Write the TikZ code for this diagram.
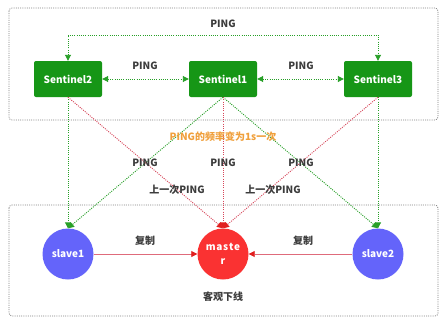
\documentclass[tikz,border=0pt]{standalone}
\usepackage{fontspec}
\setmainfont{Noto Sans CJK SC}
\usetikzlibrary{arrows.meta}
\definecolor{sgreen}{RGB}{22,150,22}
\definecolor{lgreen}{RGB}{40,160,40}
\definecolor{lred}{RGB}{215,70,90}
\definecolor{tipred}{RGB}{225,30,30}
\definecolor{sblue}{RGB}{100,100,250}
\definecolor{sred}{RGB}{250,50,50}
\definecolor{txt}{RGB}{60,60,60}
\definecolor{orangetxt}{RGB}{240,160,60}
\newcommand{\ks}{\kern0.7pt}
\tikzset{
  sent/.style={fill=sgreen, rounded corners=2pt, minimum width=68pt, minimum height=36pt, text=white, font=\bfseries\fontsize{10}{11}\selectfont, inner sep=0pt},
  circ/.style={circle, minimum size=51pt, text=white, font=\bfseries\fontsize{10}{14}\selectfont, inner sep=0pt, align=center},
  lbl/.style={text=txt, font=\bfseries\fontsize{10}{11}\selectfont, inner sep=1pt},
  gdot/.style={lgreen, line width=0.9pt, dash pattern=on 1pt off 1.2pt},
  rdot/.style={lred, line width=0.9pt, dash pattern=on 1pt off 1.2pt},
  gtip/.style={-{Triangle[length=6pt,width=6pt]}},
  rtip/.style={-{Triangle[length=6pt,width=6pt,color=tipred]}},
  frame/.style={gray, line width=0.8pt, dash pattern=on 1pt off 1.2pt, rounded corners=3pt},
}
\begin{document}
\begin{tikzpicture}[x=1pt,y=-1pt]
\useasboundingbox (0,0) rectangle (447,327);
\fill[white] (0,0) rectangle (447,327);
% frames
\draw[frame] (9,8) rectangle (438,120);
\draw[frame] (9,205) rectangle (438,316);
% nodes
\node[sent] (s2) at (68,79) {Sentinel2};
\node[sent] (s1) at (223,79) {Sentinel1};
\node[sent] (s3) at (378,79) {Sentinel3};
\node[circ, fill=sblue] (sl1) at (68,254) {slave1};
\node[circ, fill=sred] (m) at (223,254) {m\ks a\ks s\ks t\ks e\\r};
\node[circ, fill=sblue] (sl2) at (378,254) {slave2};
\coordinate (s2t) at (68,35);
\coordinate (s3t) at (378,35);
% top PING loop
\draw[gdot, {Triangle[length=6pt,width=6pt]}-{Triangle[length=6pt,width=6pt]}] (s2.north) -- (s2t) -- (s3t) -- (s3.north);
\node[lbl] (p0) at (223,24) {PING};
% sentinel to sentinel
\draw[gdot, {Triangle[length=6pt,width=6pt]}-{Triangle[length=6pt,width=6pt]}] (s2.east) -- (s1.west);
\draw[gdot, {Triangle[length=6pt,width=6pt]}-{Triangle[length=6pt,width=6pt]}] (s1.east) -- (s3.west);
\node[lbl] (p1) at (145,66) {PING};
\node[lbl] (p2) at (301,66) {PING};
% sentinel to slaves/master
\draw[gdot, gtip] (s2.south) -- (sl1.north);
\draw[gdot, gtip] (s3.south) -- (sl2.north);
\draw[gdot, gtip] (s1.south) -- (sl1.north);
\draw[gdot, gtip] (s1.south) -- (sl2.north);
\draw[rdot, rtip] (s2.south) -- (m.north);
\draw[rdot, rtip] (s1.south) -- (m.north);
\draw[rdot, rtip] (s3.south) -- (m.north);
% middle labels
\node[text=orangetxt, font=\bfseries\fontsize{10}{11}\selectfont, inner sep=1pt] (freq) at (223,137) {PING的频率变为1s一次};
\node[lbl] (p3) at (145,163) {PING};
\node[lbl] (p4) at (223,163) {PING};
\node[lbl] (p5) at (301,163) {PING};
\node[lbl] (l1) at (177,190) {上一次PING};
\node[lbl] (l2) at (273,190) {上一次PING};
% replication
\draw[lred!80, line width=0.8pt, rtip] (sl1.east) -- (m.west);
\draw[lred!80, line width=0.8pt, rtip] (sl2.west) -- (m.east);
\node[lbl] (c1) at (145,241) {复制};
\node[lbl] (c2) at (303,241) {复制};
\node[lbl] (down) at (223,297) {客观下线};
\end{tikzpicture}
\end{document}
